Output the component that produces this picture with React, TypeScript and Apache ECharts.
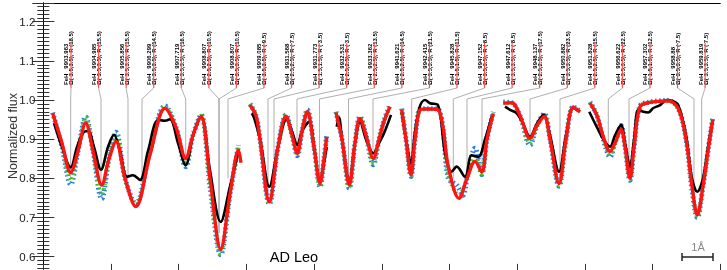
import React, { useEffect, useRef } from "react";
import * as echarts from "echarts";

// ---------- data (x in Å from the left frame, y = normalized flux) ----------
// Observed spectrum (black), one array per spectral window
const obsA = [[0.316,0.941],[0.552,0.88],[0.809,0.828],[0.996,0.88],[1.173,0.916],[1.321,0.921],[1.498,0.88],[1.705,0.822],[1.911,0.88],[2.088,0.911],[2.265,0.87],[2.472,0.804],[2.649,0.808],[2.856,0.796],[3.093,0.87],[3.397,0.949],[3.595,0.947],[3.743,0.951],[3.979,0.89],[4.207,0.834],[4.422,0.91],[4.659,0.958],[4.925,0.82],[5.241,0.689],[5.516,0.78],[5.767,0.87]];
const obsB = [[6.157,0.966],[6.225,0.955],[6.402,0.9],[6.677,0.779],[6.934,0.88],[7.19,0.951],[7.348,0.92],[7.504,0.885],[7.643,0.92],[7.858,0.945],[7.997,0.88],[8.175,0.792],[8.293,0.84],[8.372,0.88]];
const obsC = [[8.668,0.932],[8.736,0.955],[8.824,0.9],[9.04,0.792],[9.208,0.89],[9.356,0.945],[9.533,0.9],[9.749,0.864],[9.917,0.89],[10.065,0.915],[10.272,0.962]];
const obsD = [[10.588,0.97],[10.715,0.9],[10.863,0.838],[10.981,0.92],[11.129,0.985],[11.276,1.0],[11.424,0.992],[11.66,0.987],[11.867,0.864],[12.065,0.817],[12.213,0.83],[12.458,0.804],[12.656,0.859],[12.851,0.855],[13.049,0.9],[13.247,0.958]];
const obsE = [[13.64,0.983],[13.788,0.975],[13.986,0.966],[14.172,0.94],[14.378,0.906],[14.585,0.94],[14.78,0.962],[14.969,0.91],[15.235,0.817],[15.442,0.91],[15.657,0.98],[15.855,0.97]];
const obsF = [[16.13,0.97],[16.358,0.93],[16.544,0.9],[16.742,0.881],[16.89,0.91],[17.067,0.936],[17.186,0.89],[17.333,0.83],[17.452,0.9],[17.578,0.975],[17.725,0.97],[17.873,0.968],[18.012,0.979],[18.22,0.987],[18.416,1.0],[18.572,0.998],[18.759,0.987],[18.987,0.91],[19.164,0.8],[19.321,0.766],[19.489,0.8],[19.637,0.88],[19.776,0.949]];

// Best-fit synthetic spectrum (red)
const modA = [[0.278,0.966],[0.552,0.89],[0.809,0.815],[1.025,0.87],[1.253,0.941],[1.468,0.87],[1.725,0.783],[1.941,0.85],[2.148,0.894],[2.414,0.8],[2.73,0.728],[3.152,0.86],[3.595,0.979],[3.92,0.93],[4.207,0.851],[4.422,0.91],[4.659,0.958],[4.925,0.8],[5.241,0.619],[5.516,0.76],[5.767,0.872],[5.84,0.84]];
const modB = [[6.106,0.987],[6.283,0.96],[6.402,0.9],[6.677,0.74],[6.934,0.88],[7.17,0.959],[7.348,0.91],[7.504,0.864],[7.643,0.92],[7.799,0.97],[7.997,0.88],[8.175,0.787],[8.293,0.85],[8.372,0.906]];
const modC = [[8.647,0.968],[8.824,0.9],[9.04,0.783],[9.208,0.89],[9.356,0.953],[9.533,0.91],[9.749,0.851],[9.917,0.9],[10.065,0.945],[10.242,0.983]];
const modD = [[10.588,0.975],[10.715,0.9],[10.863,0.809],[10.981,0.9],[11.129,0.975],[11.276,0.977],[11.483,0.977],[11.669,0.975],[11.808,0.93],[11.965,0.83],[12.281,0.749],[12.517,0.8],[12.754,0.843],[12.952,0.817],[13.108,0.9],[13.294,0.966]];
const modE = [[13.59,0.992],[13.838,0.993],[14.083,0.96],[14.378,0.902],[14.585,0.935],[14.801,0.958],[14.969,0.9],[15.235,0.787],[15.442,0.9],[15.657,0.981],[15.855,0.97]];
const modF = [[16.151,0.992],[16.358,0.96],[16.544,0.906],[16.742,0.869],[16.89,0.89],[17.067,0.925],[17.186,0.88],[17.333,0.8],[17.452,0.88],[17.629,0.983],[17.924,0.994],[18.22,0.997],[18.464,0.998],[18.759,0.978],[18.987,0.9],[19.164,0.78],[19.321,0.707],[19.489,0.78],[19.637,0.87],[19.776,0.949]];

// Alternative synthetic spectra (blue and green dots)
const altBlueA = [[0.278,0.968],[0.552,0.88],[0.809,0.785],[1.025,0.87],[1.253,0.957],[1.468,0.87],[1.725,0.748],[1.941,0.85],[2.148,0.918],[2.414,0.8],[2.73,0.735],[3.152,0.87],[3.595,0.985],[3.92,0.93],[4.207,0.83],[4.422,0.91],[4.659,0.962],[4.925,0.78],[5.241,0.605],[5.516,0.76],[5.767,0.885]];
const altBlueB = [[6.106,0.99],[6.283,0.96],[6.402,0.9],[6.677,0.735],[6.934,0.88],[7.17,0.962],[7.348,0.91],[7.504,0.858],[7.643,0.92],[7.799,0.975],[7.997,0.88],[8.175,0.778],[8.293,0.85],[8.372,0.91]];
const altBlueC = [[8.647,0.97],[8.824,0.9],[9.04,0.775],[9.208,0.89],[9.356,0.958],[9.533,0.91],[9.749,0.835],[9.917,0.9],[10.065,0.948],[10.242,0.988]];
const altBlueD = [[10.588,0.978],[10.715,0.9],[10.863,0.805],[10.981,0.9],[11.129,0.977],[11.276,0.978],[11.483,0.978],[11.669,0.976],[11.808,0.93],[11.965,0.8],[12.213,0.783],[12.399,0.757],[12.517,0.8],[12.754,0.877],[12.952,0.81],[13.108,0.9],[13.294,0.97]];
const altBlueE = [[13.59,0.995],[13.838,0.993],[14.083,0.96],[14.378,0.885],[14.585,0.935],[14.801,0.965],[14.969,0.9],[15.235,0.78],[15.442,0.9],[15.657,0.983],[15.855,0.972]];
const altBlueF = [[16.151,0.995],[16.358,0.96],[16.544,0.9],[16.742,0.855],[16.89,0.89],[17.067,0.935],[17.186,0.88],[17.333,0.795],[17.452,0.88],[17.629,0.985],[17.924,0.995],[18.22,0.998],[18.464,0.999],[18.759,0.978],[18.987,0.9],[19.164,0.77],[19.321,0.7],[19.489,0.78],[19.637,0.87],[19.776,0.955]];
const altGreenA = [[0.278,0.967],[0.552,0.885],[0.809,0.795],[1.025,0.87],[1.253,0.955],[1.468,0.87],[1.725,0.758],[1.941,0.85],[2.148,0.913],[2.414,0.8],[2.73,0.73],[3.152,0.865],[3.595,0.983],[3.92,0.93],[4.207,0.835],[4.422,0.91],[4.659,0.96],[4.925,0.79],[5.241,0.607],[5.516,0.76],[5.767,0.88]];
const altGreenB = [[6.106,0.988],[6.283,0.96],[6.402,0.9],[6.677,0.737],[6.934,0.88],[7.17,0.96],[7.348,0.91],[7.504,0.86],[7.643,0.92],[7.799,0.972],[7.997,0.88],[8.175,0.78],[8.293,0.85],[8.372,0.908]];
const altGreenC = [[8.647,0.969],[8.824,0.9],[9.04,0.778],[9.208,0.89],[9.356,0.956],[9.533,0.91],[9.749,0.84],[9.917,0.9],[10.065,0.946],[10.242,0.985]];
const altGreenD = [[10.588,0.976],[10.715,0.9],[10.863,0.806],[10.981,0.9],[11.129,0.976],[11.276,0.977],[11.483,0.977],[11.669,0.975],[11.808,0.93],[11.965,0.81],[12.281,0.758],[12.517,0.8],[12.754,0.86],[12.952,0.812],[13.108,0.9],[13.294,0.968]];
const altGreenE = [[13.59,0.993],[13.838,0.993],[14.083,0.96],[14.378,0.89],[14.585,0.935],[14.801,0.962],[14.969,0.9],[15.235,0.782],[15.442,0.9],[15.657,0.982],[15.855,0.971]];
const altGreenF = [[16.151,0.993],[16.358,0.96],[16.544,0.903],[16.742,0.86],[16.89,0.89],[17.067,0.93],[17.186,0.88],[17.333,0.797],[17.452,0.88],[17.629,0.984],[17.924,0.994],[18.22,0.997],[18.464,0.998],[18.759,0.978],[18.987,0.9],[19.164,0.775],[19.321,0.702],[19.489,0.78],[19.637,0.87],[19.776,0.952]];

// FeH line identifications
const lineWavelengths = ["9903.963","9904.985","9905.856","9906.299","9907.719","9908.807","9908.807","9909.085","9931.568","9931.773","9932.531","9933.362","9941.621","9942.415","9945.828","9947.152","9947.612","9948.137","9950.882","9951.828","9956.622","9957.302","9958.88","9959.819"];
const lineOmega = ["3.5,3.5","3.5,3.5","3.5,3.5","3.5,3.5","3.5,3.5","2.5,2.5","3.5,3.5","3.5,3.5","2.5,2.5","1.5,1.5","2.5,2.5","2.5,2.5","2.5,2.5","3.5,3.5","1.5,1.5","3.5,3.5","3.5,3.5","2.5,2.5","3.5,3.5","2.5,2.5","3.5,3.5","1.5,1.5","3.5,3.5","3.5,3.5"];
const lineR = ["18.5","15.5","15.5","14.5","16.5","10.5","10.5"," 9.5"," 7.5"," 3.5"," 3.5","13.5","14.5","21.5","11.5"," 8.5"," 8.5","17.5","23.5","15.5","22.5","12.5"," 7.5"," 7.5"];
const linePosX = [0.809,1.705,2.502,2.916,4.207,5.191,5.191,5.456,6.638,6.816,7.495,8.16,9.016,9.74,10.883,12.112,12.517,12.96,14.378,15.264,16.691,17.303,19.223,19.45];
const lineDepth = [0.8,0.78,0.8,0.79,0.84,0.66,0.66,0.8,0.76,0.85,0.87,0.79,0.79,0.86,0.82,0.8,0.8,0.82,0.9,0.79,0.87,0.8,0.72,0.8];

const yTicks = { min: 0.5, max: 1.2477, step: 0.1 };

const FONT = "'Liberation Sans', Arial, Helvetica, sans-serif";

export default function App() {
  const ref = useRef<HTMLDivElement>(null);
  useEffect(() => {
    if (!ref.current) return;
    const chart = echarts.init(ref.current, undefined, { renderer: "svg" });

    const segs = (arrs: number[][][], name: string, ls: any, z: number) =>
      arrs.map((d) => ({
        type: "line",
        name,
        data: d,
        showSymbol: false,
        smooth: 0.35,
        z,
        lineStyle: ls,
        silent: true,
      }));

    const labelStartX = 0.818;
    const labelStep = 0.8145;
    const labelData = lineWavelengths.map((w, i) => [labelStartX + i * labelStep, linePosX[i], lineDepth[i], i]);

    const series: any[] = [
      {
        type: "custom",
        z: 1,
        silent: true,
        data: labelData,
        renderItem: (params: any, api: any) => {
          const lx = api.value(0);
          const px = api.value(1);
          const dep = api.value(2);
          const i = api.value(3);
          const top = api.coord([lx, 1.1456]);
          const bot = api.coord([lx, 1.0307]);
          const joint = api.coord([px, 1.0027]);
          const end = api.coord([px, dep]);
          const tEnd = api.coord([lx, 1.0384]);
          return {
            type: "group",
            children: [
              {
                type: "polyline",
                shape: { points: [[bot[0], bot[1]], [joint[0], joint[1]], [end[0], end[1]]] },
                style: { stroke: "#9a9a9a", lineWidth: 0.8, fill: null },
              },
              {
                type: "text",
                x: tEnd[0] - 4.5,
                y: tEnd[1],
                rotation: Math.PI / 2,
                style: {
                  text: "FeH   " + lineWavelengths[i],
                  fontSize: 6,
                  fontWeight: "bold",
                  fontFamily: FONT,
                  fill: "#000",
                  align: "left",
                  verticalAlign: "middle",
                },
              },
              {
                type: "text",
                x: tEnd[0] + 0.5,
                y: tEnd[1],
                rotation: Math.PI / 2,
                style: {
                  text: "Ω( " + lineOmega[i] + "), R (" + lineR[i] + ")",
                  fontSize: 6,
                  fontWeight: "bold",
                  fontFamily: FONT,
                  fill: "#000",
                  align: "left",
                  verticalAlign: "middle",
                },
              },
              {
                type: "line",
                shape: { x1: top[0], y1: top[1], x2: bot[0], y2: bot[1] },
                style: { stroke: "#ff5050", lineWidth: 1.2 },
              },
            ],
          };
        },
      },
      ...segs([altBlueA, altBlueB, altBlueC, altBlueD, altBlueE, altBlueF], "blue", { color: "#2a7de1", width: 5, type: [1.5, 2.5] }, 2),
      ...segs([altGreenA, altGreenB, altGreenC, altGreenD, altGreenE, altGreenF], "green", { color: "#3fcc1a", width: 4, type: [1.5, 3] }, 3),
      ...segs([obsA, obsB, obsC, obsD, obsE, obsF], "observed", { color: "#000", width: 2.6 }, 4),
      ...segs([modA, modB, modC, modD, modE, modF], "model", { color: "#ff1414", width: 3.4 }, 5),
    ];

    const yAxisBase = {
      type: "value",
      min: yTicks.min,
      max: yTicks.max,
      interval: yTicks.step,
      splitLine: { show: false },
      axisLine: { show: true, lineStyle: { color: "#000", width: 1 } },
      axisTick: { show: true, inside: true, length: 11, lineStyle: { color: "#333", width: 1 } },
      minorTick: { show: true, splitNumber: 10, length: 6, lineStyle: { color: "#333", width: 1 } },
    };

    chart.setOption({
      animation: false,
      grid: { left: 43.3, right: 6.7, top: 3, bottom: -25.9, containLabel: false, outerBoundsMode: "none" },
      xAxis: [
        {
          type: "value",
          min: 0,
          max: 20,
          interval: 2,
          position: "bottom",
          offset: -25,
          splitLine: { show: false },
          axisLine: { show: true, lineStyle: { color: "#000" } },
          axisTick: { show: true, inside: true, length: 7, lineStyle: { color: "#333" } },
          axisLabel: { show: false },
        },
        {
          type: "value",
          min: 0,
          max: 20,
          interval: 2,
          position: "top",
          splitLine: { show: false },
          axisLine: { show: true, lineStyle: { color: "#000" } },
          axisTick: { show: false },
          axisLabel: { show: false },
        },
      ],
      yAxis: [
        {
          ...yAxisBase,
          position: "left",
          axisLabel: {
            show: true,
            margin: 8,
            fontSize: 11.5,
            fontFamily: FONT,
            color: "#222",
            showMinLabel: false,
            showMaxLabel: false,
            formatter: (v: number) => (v > 0.55 && v < 1.22 ? v.toFixed(1) : ""),
          },
        },
        { ...yAxisBase, position: "right", axisLabel: { show: false } },
      ],
      graphic: [
        {
          type: "text",
          x: 13,
          y: 136,
          rotation: Math.PI / 2,
          style: {
            text: "Normalized flux",
            fontSize: 12.5,
            fontFamily: FONT,
            fill: "#333",
            align: "center",
            verticalAlign: "middle",
          },
        },
        {
          type: "text",
          x: 294,
          y: 257,
          style: { text: "AD Leo", fontSize: 14.5, fontFamily: FONT, fill: "#000", align: "center", verticalAlign: "middle" },
        },
        {
          type: "text",
          x: 698,
          y: 247,
          style: { text: "1Å", fontSize: 11, fontFamily: FONT, fill: "#888", align: "center", verticalAlign: "middle" },
        },
        { type: "line", shape: { x1: 682, y1: 257, x2: 713, y2: 257 }, style: { stroke: "#222", lineWidth: 1.5 } },
        { type: "line", shape: { x1: 682, y1: 253, x2: 682, y2: 261 }, style: { stroke: "#222", lineWidth: 1.5 } },
        { type: "line", shape: { x1: 713, y1: 253, x2: 713, y2: 261 }, style: { stroke: "#222", lineWidth: 1.5 } },
      ],
      series,
    });
    return () => chart.dispose();
  }, []);
  return <div ref={ref} style={{ position: "fixed", left: 0, top: 0, width: 727, height: 270 }} />;
}
